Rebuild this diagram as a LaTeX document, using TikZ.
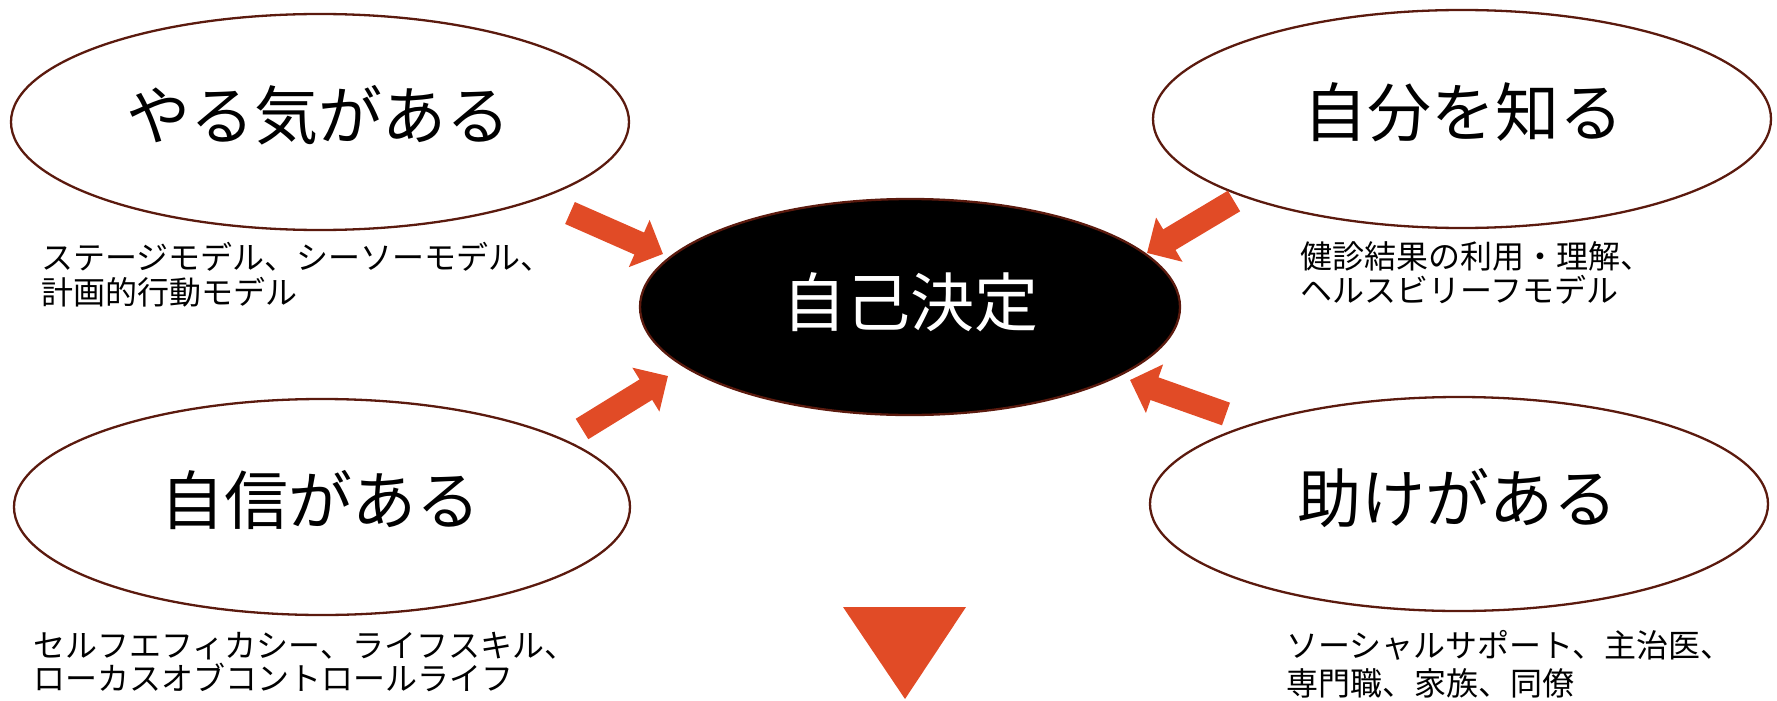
\documentclass[tikz,border=0pt]{standalone}
\usepackage{fontspec}
\setmainfont{Noto Sans CJK JP}
\usetikzlibrary{arrows.meta}
\definecolor{arr}{HTML}{E14B26}
\definecolor{edge}{HTML}{5B1A0E}
\tikzset{
  bigtxt/.style={font=\fontsize{64}{72}\selectfont, inner sep=0pt},
  smalltxt/.style={font=\fontsize{32}{38}\selectfont, inner sep=0pt, anchor=base west},
  fatarrow/.style={arr, line width=24pt, -{Triangle[width=50pt,length=26pt]}},
  ovaledge/.style={edge, line width=2.3pt}
}
\begin{document}
\begin{tikzpicture}[x=1pt,y=-1pt]
\useasboundingbox (0,0) rectangle (1777,701);
% ellipses
\draw[ovaledge] (320,122) ellipse [x radius=309, y radius=108];
\draw[ovaledge] (1462,119) ellipse [x radius=309, y radius=109];
\draw[ovaledge] (322,507) ellipse [x radius=308, y radius=108];
\draw[ovaledge] (1459,504) ellipse [x radius=309, y radius=107];
\draw[ovaledge, fill=black] (910,307) ellipse [x radius=270, y radius=108];
% big labels
\node[bigtxt] (motiv) at (318,115) {やる気がある};
\node[bigtxt] (know) at (1463,112) {自分を知る};
\node[bigtxt, text=white] (self) at (910,302) {自己決定};
\node[bigtxt] (conf) at (320,500) {自信がある};
\node[bigtxt] (help) at (1457,498) {助けがある};
% small texts
\node[smalltxt] (tl1) at (41,269) {ステージモデル、シーソーモデル、};
\node[smalltxt] (tl2) at (41,304) {計画的行動モデル};
\node[smalltxt] (tr1) at (1300,268) {健診結果の利用・理解、};
\node[smalltxt] (tr2) at (1300,302) {ヘルスビリーフモデル};
\node[smalltxt] (bl1) at (33,657) {セルフエフィカシー、ライフスキル、};
\node[smalltxt] (bl2) at (33,690) {ローカスオブコントロールライフ};
\node[smalltxt] (br1) at (1286,657) {ソーシャルサポート、主治医、};
\node[smalltxt] (br2) at (1286,695) {専門職、家族、同僚};
% arrows
\coordinate (a1s) at (570,213); \coordinate (a1e) at (663,254);
\coordinate (a2s) at (1234,201); \coordinate (a2e) at (1147,253);
\coordinate (a3s) at (582,429); \coordinate (a3e) at (668,376);
\coordinate (a4s) at (1226,414); \coordinate (a4e) at (1130,380);
\draw[fatarrow] (a1s) -- (a1e);
\draw[fatarrow] (a2s) -- (a2e);
\draw[fatarrow] (a3s) -- (a3e);
\draw[fatarrow] (a4s) -- (a4e);
% down triangle
\coordinate (t1) at (843,607); \coordinate (t2) at (966,607); \coordinate (t3) at (905,699);
\fill[arr] (t1) -- (t2) -- (t3) -- cycle;
\end{tikzpicture}
\end{document}
